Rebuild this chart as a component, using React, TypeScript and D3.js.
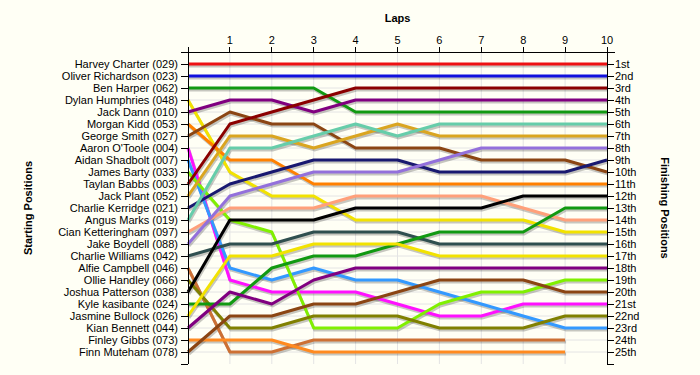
import React from "react";
import * as d3 from "d3";

const drivers = [
  "Harvey Charter (029)", "Oliver Richardson (023)", "Ben Harper (062)", "Dylan Humphries (048)",
  "Jack Dann (010)", "Morgan Kidd (053)", "George Smith (027)", "Aaron O'Toole (004)",
  "Aidan Shadbolt (007)", "James Barty (033)", "Taylan Babbs (003)", "Jack Plant (052)",
  "Charlie Kerridge (021)", "Angus Marks (019)", "Cian Ketteringham (097)", "Jake Boydell (088)",
  "Charlie Williams (042)", "Alfie Campbell (046)", "Ollie Handley (066)", "Joshua Patterson (038)",
  "Kyle kasibante (024)", "Jasmine Bullock (026)", "Kian Bennett (044)", "Finley Gibbs (073)",
  "Finn Muteham (078)",
];

const colors = [
  "#ee1111", "#1111dd", "#119911", "#f2e200", "#800080", "#ff8000", "#8b4513", "#ff11ff",
  "#3399ff", "#80f000", "#8b0000", "#daa520", "#191970", "#66cdaa", "#ffa07a", "#9370db",
  "#2f4f4f", "#cd7034", "#808000", "#000000", "#119911", "#f2e200", "#800080", "#ff8a20",
  "#8b4513",
];

// position at laps 0..10 (null = did not complete the lap)
const positions: (number | null)[][] = [
  [1, 1, 1, 1, 1, 1, 1, 1, 1, 1, 1],
  [2, 2, 2, 2, 2, 2, 2, 2, 2, 2, 2],
  [3, 3, 3, 3, 5, 5, 5, 5, 5, 5, 5],
  [4, 10, 12, 12, 14, 14, 14, 14, 14, 15, 15],
  [5, 4, 4, 5, 4, 4, 4, 4, 4, 4, 4],
  [6, 9, 9, 11, 11, 11, 11, 11, 11, 11, 11],
  [7, 5, 6, 6, 8, 8, 8, 9, 9, 9, 10],
  [8, 19, 20, 20, 20, 21, 22, 22, 21, 21, 21],
  [9, 18, 19, 18, 19, 19, 20, 21, 22, 23, 23],
  [10, 14, 15, 23, 23, 23, 21, 20, 20, 19, 19],
  [11, 6, 5, 4, 3, 3, 3, 3, 3, 3, 3],
  [12, 7, 7, 8, 7, 6, 7, 7, 7, 7, 7],
  [13, 11, 10, 9, 9, 9, 10, 10, 10, 10, 9],
  [14, 8, 8, 7, 6, 7, 6, 6, 6, 6, 6],
  [15, 13, 13, 13, 12, 12, 12, 12, 13, 14, 14],
  [16, 12, 11, 10, 10, 10, 9, 8, 8, 8, 8],
  [17, 16, 16, 15, 15, 15, 16, 16, 16, 16, 16],
  [18, 25, 25, 24, 24, 24, 24, 24, 24, 24, null],
  [19, 23, 23, 22, 22, 22, 23, 23, 23, 22, 22],
  [20, 14, 14, 14, 13, 13, 13, 13, 12, 12, 12],
  [21, 21, 18, 17, 17, 16, 15, 15, 15, 13, 13],
  [22, 17, 17, 16, 16, 16, 17, 17, 17, 17, 17],
  [23, 20, 21, 19, 18, 18, 18, 18, 18, 18, 18],
  [24, 24, 24, 25, 25, 25, 25, 25, 25, 25, null],
  [25, 22, 22, 21, 21, 20, 19, 19, 19, 20, 20],
];

const laps = d3.range(0, 11);
const finishLabels = [
  "1st", "2nd", "3rd", "4th", "5th", "6th", "7th", "8th", "9th", "10th", "11th", "12th", "13th",
  "14th", "15th", "16th", "17th", "18th", "19th", "20th", "21st", "22nd", "23rd", "24th", "25th",
];

const W = 700;
const H = 375;
const font = "Arial, 'Liberation Sans', sans-serif";

export default function App() {
  const x = d3.scaleLinear().domain([0, 10]).range([188, 607]);
  const y = d3.scaleLinear().domain([0, 26]).range([52, 364]);
  const rows = d3.range(1, 26);

  const line = d3
    .line<[number, number | null]>()
    .defined((d) => d[1] != null)
    .x((d) => x(d[0]))
    .y((d) => y(d[1] as number));

  const paths = positions.map((p) => line(laps.map((l) => [l, p[l]] as [number, number | null])) || "");

  return (
    <svg width={W} height={H} style={{ position: "absolute", left: 0, top: 0 }} fontFamily={font}>
      <rect width={W} height={H} fill="#fffff5" />

      {/* grid */}
      <g stroke="#e4e4e4" strokeWidth={1}>
        {laps.slice(1, 10).map((l) => (
          <line key={"v" + l} x1={x(l)} x2={x(l)} y1={y(0)} y2={y(26)} />
        ))}
        {rows.map((r) => (
          <line key={"h" + r} x1={x(0)} x2={x(10)} y1={y(r)} y2={y(r)} />
        ))}
      </g>

      {/* shadows */}
      <g fill="none" stroke="#000" strokeOpacity={0.22} strokeWidth={3} transform="translate(1,2)">
        {paths.map((d, i) => (
          <path key={i} d={d} />
        ))}
      </g>
      <g fill="none" strokeWidth={3} strokeLinejoin="round">
        {paths.map((d, i) => (
          <path key={i} d={d} stroke={colors[i]} />
        ))}
      </g>

      {/* axes */}
      <g stroke="#000" strokeWidth={1} shapeRendering="crispEdges">
        <line x1={181} x2={615} y1={y(0)} y2={y(0)} />
        <line x1={x(0)} x2={x(0)} y1={y(0) - 5} y2={y(26)} />
        <line x1={x(10)} x2={x(10)} y1={y(0) - 5} y2={y(26)} />
        {laps.slice(1, 10).map((l) => (
          <line key={"t" + l} x1={x(l)} x2={x(l)} y1={y(0) - 5} y2={y(0)} />
        ))}
        {d3.range(1, 27).map((r) => (
          <g key={"k" + r}>
            <line x1={x(0) - 7} x2={x(0)} y1={y(r)} y2={y(r)} />
            <line x1={x(10)} x2={x(10) + 7} y1={y(r)} y2={y(r)} />
          </g>
        ))}
      </g>

      {/* labels */}
      <g fontSize={11} fill="#000">
        {laps.slice(1).map((l) => (
          <text key={"tl" + l} x={x(l)} y={y(0) - 8} textAnchor="middle">{l}</text>
        ))}
        {drivers.map((n, i) => (
          <text key={"dl" + i} x={x(0) - 10} y={y(i + 1)} dy="0.35em" textAnchor="end">{n}</text>
        ))}
        {finishLabels.map((n, i) => (
          <text key={"fl" + i} x={x(10) + 8} y={y(i + 1)} dy="0.35em" textAnchor="start">{n}</text>
        ))}
      </g>

      <g fontSize={11} fontWeight="bold" fill="#000">
        <text x={(x(0) + x(10)) / 2} y={22} textAnchor="middle">Laps</text>
        <text transform={`translate(32,${y(13)}) rotate(-90)`} textAnchor="middle">Starting Positions</text>
        <text transform={`translate(661,${y(13)}) rotate(90)`} textAnchor="middle">Finishing Positions</text>
      </g>
    </svg>
  );
}
